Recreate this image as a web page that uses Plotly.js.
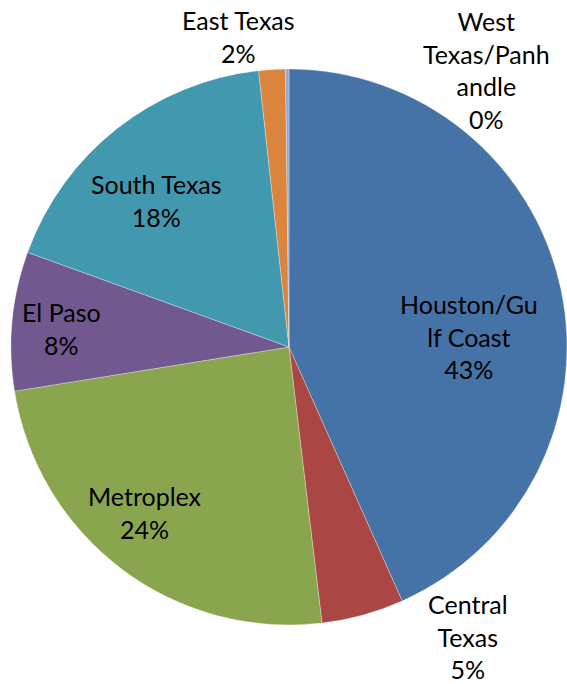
<!DOCTYPE html>
<html>
<head>
<meta charset="utf-8">
<script src="https://cdn.plot.ly/plotly-3.0.1.min.js"></script>
<style>html,body{margin:0;padding:0;background:#fff;}#chart{width:567px;height:684px;}</style>
</head>
<body>
<div id="chart"></div>
<script>
// ---- data ----
const regions = ["Houston/Gulf Coast", "Central Texas", "Metroplex", "El Paso", "South Texas", "East Texas", "West Texas/Panhandle"];
const labelLines = ["Houston/Gu<br>lf Coast", "Central<br>Texas", "Metroplex", "El Paso", "South Texas", "East Texas", "West<br>Texas/Panh<br>andle"];
const shares = [43.5, 4.8, 24.45, 8.1, 17.8, 1.55, 0.2];

// ---- styles / placement ----
const colors = ["#4572A7", "#AA4643", "#89A54E", "#71588F", "#4198AF", "#DB843D", "#93A9CF"];
const labelAngleShift = [8.8, -16.2, 4.1, -0.6, -3.8, -5.7, 35.8];   // degrees from slice mid-angle
const labelRadiusFrac = [0.65, 1.225, 0.79, 0.82, 0.71, 1.13, 1.223];

const W = 567, H = 684;
const dom = {x: [11 / W, 1], y: [1 - 626 / H, 1 - 68 / H]};
const cx = (dom.x[0] + dom.x[1]) / 2 * W;
const cy = (1 - (dom.y[0] + dom.y[1]) / 2) * H;
const R = Math.min((dom.x[1] - dom.x[0]) * W, (dom.y[1] - dom.y[0]) * H) / 2;

const total = shares.reduce((a, b) => a + b, 0);
const font = {family: "Lato, 'Open Sans', sans-serif", size: 25, color: "#000"};

let cum = 0;
const annotations = shares.map((v, i) => {
  const mid = (cum + v / 2) / total * 360;
  cum += v;
  const th = (mid + labelAngleShift[i]) * Math.PI / 180;
  const rr = R * labelRadiusFrac[i];
  const px = cx + rr * Math.sin(th);
  const py = cy - rr * Math.cos(th);
  return {
    xref: "paper", yref: "paper",
    x: px / W, y: 1 - py / H,
    xanchor: "center", yanchor: "middle",
    text: labelLines[i] + "<br>" + Math.round(v / total * 100) + "%",
    showarrow: false,
    align: "center",
    font: font
  };
});

const trace = {
  type: "pie",
  labels: regions,
  values: shares,
  sort: false,
  direction: "clockwise",
  rotation: 0,
  marker: {colors: colors, line: {color: "rgba(255,255,255,0.6)", width: 0.5}},
  textinfo: "none",
  showlegend: false,
  hoverinfo: "label+percent",
  domain: dom
};

const layout = {
  width: W, height: H,
  margin: {l: 0, r: 0, t: 0, b: 0},
  paper_bgcolor: "#fff",
  showlegend: false,
  annotations: annotations
};

Plotly.newPlot("chart", [trace], layout, {displayModeBar: false, staticPlot: true});
</script>
</body>
</html>
